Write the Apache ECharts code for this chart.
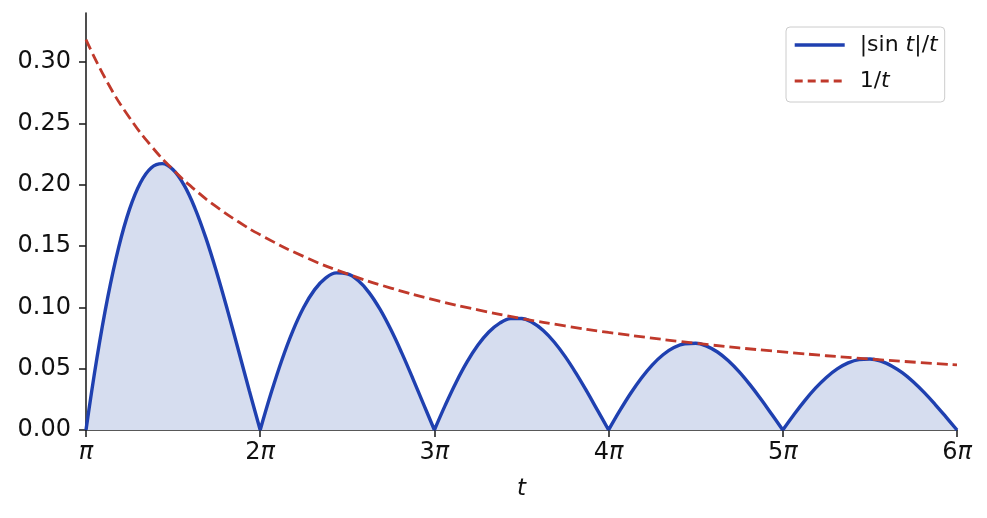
<!DOCTYPE html>
<html>
<head>
<meta charset="utf-8">
<script src="https://cdn.jsdelivr.net/npm/echarts@6/dist/echarts.min.js"></script>
<style>
  html, body { margin: 0; padding: 0; background: #fff; }
  #chart { width: 987px; height: 518px; }
</style>
</head>
<body>
<div id="chart"></div>
<script>
// t is stored in units of pi (1 = π ... 6 = 6π)
const tAbs = [
  1, 1.0625, 1.125, 1.1875, 1.25, 1.3125, 1.375, 1.4375, 1.5, 1.5625, 1.625, 1.6875, 1.75, 1.8125, 1.875, 1.9375,
  2, 2.0625, 2.125, 2.1875, 2.25, 2.3125, 2.375, 2.4375, 2.5, 2.5625, 2.625, 2.6875, 2.75, 2.8125, 2.875, 2.9375,
  3, 3.0625, 3.125, 3.1875, 3.25, 3.3125, 3.375, 3.4375, 3.5, 3.5625, 3.625, 3.6875, 3.75, 3.8125, 3.875, 3.9375,
  4, 4.0625, 4.125, 4.1875, 4.25, 4.3125, 4.375, 4.4375, 4.5, 4.5625, 4.625, 4.6875, 4.75, 4.8125, 4.875, 4.9375,
  5, 5.0625, 5.125, 5.1875, 5.25, 5.3125, 5.375, 5.4375, 5.5, 5.5625, 5.625, 5.6875, 5.75, 5.8125, 5.875, 5.9375,
  6
];
// |sin t| / t
const absSinOverT = [
  0, 0.05845, 0.10828, 0.14892, 0.18007, 0.20165, 0.21388, 0.21718, 0.21221, 0.19980, 0.18097, 0.15684, 0.12862, 0.09757, 0.06497, 0.03205,
  0, 0.03011, 0.05732, 0.08084, 0.10004, 0.11445, 0.12382, 0.12808, 0.12732, 0.12183, 0.11203, 0.09848, 0.08185, 0.06288, 0.04237, 0.02114,
  0, 0.02028, 0.03898, 0.05548, 0.06926, 0.07990, 0.08713, 0.09082, 0.09095, 0.08763, 0.08113, 0.07177, 0.06002, 0.04638, 0.03144, 0.01577,
  0, 0.01529, 0.02953, 0.04223, 0.05296, 0.06137, 0.06722, 0.07035, 0.07074, 0.06843, 0.06359, 0.05646, 0.04739, 0.03675, 0.02499, 0.01258,
  0, 0.01227, 0.02377, 0.03409, 0.04287, 0.04982, 0.05471, 0.05741, 0.05787, 0.05613, 0.05228, 0.04654, 0.03914, 0.03042, 0.02073, 0.01046,
  0
];
// 1 / t
const tInv = [1, 1.125, 1.25, 1.375, 1.5, 1.625, 1.75, 1.875, 2, 2.25, 2.5, 2.75, 3, 3.25, 3.5, 3.75, 4, 4.5, 5, 5.5, 6];
const oneOverT = [0.31831, 0.28294, 0.25465, 0.23150, 0.21221, 0.19588, 0.18189, 0.16977, 0.15915, 0.14147, 0.12732,
  0.11575, 0.10610, 0.09794, 0.09095, 0.08488, 0.07958, 0.07074, 0.06366, 0.05787, 0.05305];

const yTicks = [0, 0.05, 0.10, 0.15, 0.20, 0.25, 0.30];

const NAME_ABS = '|sin t|/t';
const NAME_INV = '1/t';

const COLORS = {
    blue: '#1f40b0',
    red: '#c0392b',
    fill: '#d6ddef',
    axis: '#222222',
    text: '#111111'
};
const FONT = 'DejaVu Sans';
const BLUE_W = 3.4;
const RED_W = 2.8;
const RED_DASH = [11, 5];

const chart = echarts.init(document.getElementById('chart'), null, { renderer: 'canvas' });

// pairs up x / y; inner zeros (the cusps) split the line so smoothing keeps them sharp
function buildArches(xs, ys) {
    const out = [];
    xs.forEach((x, i) => {
        out.push([x, ys[i]]);
        if (ys[i] === 0 && i > 0 && i < xs.length - 1) {
            out.push([x, '-']);
            out.push([x, ys[i]]);
        }
    });
    return out;
}
const zip = (xs, ys) => xs.map((x, i) => [x, ys[i]]);

const option = {
    animation: false,
    textStyle: { fontFamily: FONT, color: COLORS.text },
    grid: { left: 86, right: 30, top: 13, bottom: 88, containLabel: false },
    legend: {
        orient: 'vertical',
        left: 786,
        top: 27,
        padding: [7, 7, 10, 7],
        itemWidth: 50,
        itemHeight: 14,
        itemGap: 14,
        borderColor: '#cccccc',
        borderWidth: 1,
        borderRadius: 4,
        backgroundColor: '#ffffff',
        itemStyle: { opacity: 0 },
        data: [
            { name: NAME_ABS, lineStyle: { width: BLUE_W, color: COLORS.blue } },
            { name: NAME_INV, lineStyle: { width: RED_W, color: COLORS.red, type: [8, 5] } }
        ],
        formatter: (name) => name === NAME_ABS ? '|sin {i|t}|/{i|t}' : '1/{i|t}',
        textStyle: {
            fontFamily: FONT, fontSize: 22, color: COLORS.text, padding: [0, 0, 0, 10],
            rich: { i: { fontFamily: FONT, fontSize: 22, fontStyle: 'italic', color: COLORS.text } }
        }
    },
    xAxis: {
        type: 'value',
        min: 1,
        max: 6,
        interval: 1,
        name: 't',
        nameLocation: 'middle',
        nameGap: 48,
        nameTextStyle: { fontFamily: FONT, fontSize: 23, fontStyle: 'italic', color: COLORS.text },
        axisLine: { show: true, lineStyle: { color: COLORS.axis, width: 1.6 } },
        axisTick: { show: true, length: 7, lineStyle: { color: COLORS.axis, width: 1.6 } },
        splitLine: { show: false },
        axisLabel: {
            margin: 11,
            fontFamily: FONT,
            fontSize: 24,
            color: COLORS.text,
            formatter: (v) => (v === 1 ? '' : v) + '{i|π}',
            rich: { i: { fontFamily: FONT, fontSize: 24, fontStyle: 'italic', color: COLORS.text } }
        }
    },
    yAxis: {
        type: 'value',
        min: 0,
        max: 0.34,
        axisLine: { show: true, lineStyle: { color: COLORS.axis, width: 1.6 } },
        axisTick: { show: true, length: 7, customValues: yTicks, lineStyle: { color: COLORS.axis, width: 1.6 } },
        splitLine: { show: false },
        axisLabel: {
            customValues: yTicks,
            margin: 15,
            fontFamily: FONT,
            fontSize: 24,
            color: COLORS.text,
            formatter: (v) => v.toFixed(2)
        }
    },
    series: [
        {
            name: NAME_ABS,
            type: 'line',
            data: buildArches(tAbs, absSinOverT),
            connectNulls: false,
            symbol: 'none',
            smooth: 0.4,
            lineStyle: { color: COLORS.blue, width: BLUE_W },
            itemStyle: { color: COLORS.blue },
            areaStyle: { color: COLORS.fill, opacity: 1, origin: 'start' },
            z: 3
        },
        {
            name: NAME_INV,
            type: 'line',
            data: zip(tInv, oneOverT),
            symbol: 'none',
            smooth: true,
            lineStyle: { color: COLORS.red, width: RED_W, type: RED_DASH },
            itemStyle: { color: COLORS.red },
            z: 4
        }
    ]
};

chart.setOption(option);
</script>
</body>
</html>
